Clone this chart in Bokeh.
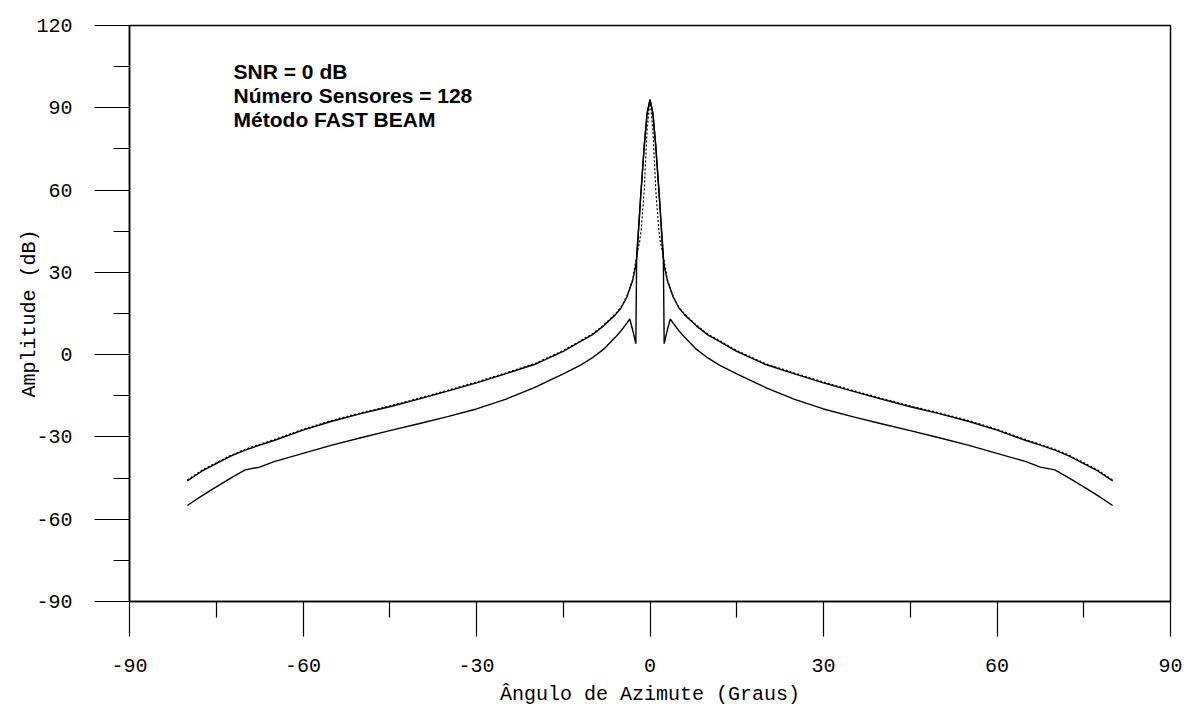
from bokeh.plotting import figure
from bokeh.models import FixedTicker, Range1d, Label, CustomJSTickFormatter
from bokeh.embed import file_html
from bokeh.resources import INLINE

# ---- data ----
x_ticks = [-90, -60, -30, 0, 30, 60, 90]
x_minor = [-75, -45, -15, 15, 45, 75]
y_ticks = [-90, -60, -30, 0, 30, 60, 90, 120]
y_minor = [-75, -45, -15, 15, 45, 75, 105]

upper_ang = [-80, -77.5, -75, -72.5, -70, -67.5, -65, -60, -55, -50, -45, -40, -35, -30,
             -25, -20, -15, -12, -10, -8, -6, -5, -4, -3, -2.5, -2.2,
             -2.0, -1.6, -1.0, -0.5, 0, 0.5, 1.0, 1.6, 2.0,
             2.2, 2.5, 3, 4, 5, 6, 8, 10, 12, 15, 20, 25, 30, 35, 40, 45, 50, 55, 60,
             65, 67.5, 70, 72.5, 75, 77.5, 80]
upper_db = [-46, -42.5, -39.7, -37, -34.8, -33, -31.3, -27.5, -24.3, -21.5, -19, -16.2, -13.3, -10.3,
            -7, -3.6, 1.2, 4.8, 7.2, 10.5, 14.5, 17, 21, 27, 32, 37,
            45, 58, 76, 88, 93, 88, 76, 58, 45,
            37, 32, 27, 21, 17, 14.5, 10.5, 7.2, 4.8, 1.2, -3.6, -7, -10.3, -13.3, -16.2, -19, -21.5, -24.3, -27.5,
            -31.3, -33, -34.8, -37, -39.7, -42.5, -46]

lower_ang = [-80, -77.5, -75, -72.5, -70, -67.5, -65, -60, -55, -50, -45, -40, -35, -30,
             -25, -20, -15, -12, -10, -8, -6, -5, -4, -3.5, -3, -2.45, -2.3,
             -2.0, -1.6, -1.0, -0.5, 0, 0.5, 1.0, 1.6, 2.0,
             2.3, 2.45, 3, 3.5, 4, 5, 6, 8, 10, 12, 15, 20, 25, 30, 35, 40, 45, 50, 55, 60,
             65, 67.5, 70, 72.5, 75, 77.5, 80]
lower_db = [-55, -51.5, -48.2, -45, -42, -41, -39, -36, -33, -30.3, -27.7, -25.2, -22.6, -19.8,
            -16.3, -12, -7, -3.8, -1.2, 2, 6.3, 8.7, 11.5, 13, 9, 4, 37,
            45, 58, 76, 88, 93, 88, 76, 58, 45,
            37, 4, 9, 13, 11.5, 8.7, 6.3, 2, -1.2, -3.8, -7, -12, -16.3, -19.8, -22.6, -25.2, -27.7, -30.3, -33, -36,
            -39, -41, -42, -45, -48.2, -51.5, -55]

dotted_ang = [-80, -77.5, -75, -72.5, -70, -67.5, -65, -60, -55, -50, -45, -40, -35, -30,
              -25, -20, -15, -12, -10, -8, -6, -5, -4, -3, -2.2,
              -1.8, -1.5, -1.0, -0.5, 0, 0.5, 1.0, 1.5, 1.8,
              2.2, 3, 4, 5, 6, 8, 10, 12, 15, 20, 25, 30, 35, 40, 45, 50, 55, 60,
              65, 67.5, 70, 72.5, 75, 77.5, 80]
dotted_db = [-45.7, -42.2, -39.4, -36.7, -34.5, -32.7, -31, -27.2, -24, -21.2, -18.7, -15.9, -13, -10,
             -6.7, -3.3, 1.5, 5.1, 7.5, 10.8, 14.8, 17.3, 21.3, 27.3, 37.2,
             41, 46, 60, 82, 93, 82, 60, 46, 41,
             37.2, 27.3, 21.3, 17.3, 14.8, 10.8, 7.5, 5.1, 1.5, -3.3, -6.7, -10, -13, -15.9, -18.7, -21.2, -24, -27.2,
             -31, -32.7, -34.5, -36.7, -39.4, -42.2, -45.7]

info_lines = ["SNR = 0 dB", "Número Sensores = 128", "Método FAST BEAM"]
info_x = -72.0
info_y = [103.2, 94.4, 85.7]

# ---- figure ----
p = figure(width=1187, height=708, output_backend="svg", toolbar_location=None,
           x_range=Range1d(-90, 90), y_range=Range1d(-90, 120),
           min_border_left=129, min_border_right=17, min_border_top=25, min_border_bottom=107)
p.xgrid.visible = False
p.ygrid.visible = False
p.outline_line_color = "black"
p.outline_line_width = 1.5
p.background_fill_color = "white"
p.border_fill_color = "white"

mono = "Liberation Mono"
fmt = CustomJSTickFormatter(code="return tick.toFixed(0);")
for ax in (p.xaxis[0], p.yaxis[0]):
    ax.formatter = fmt
    ax.axis_line_width = 1.5
    ax.axis_line_color = "black"
    ax.major_tick_out = 35
    ax.major_tick_in = 0
    ax.minor_tick_out = 16
    ax.minor_tick_in = 0
    ax.major_tick_line_width = 1.2
    ax.minor_tick_line_width = 1.2
    ax.major_tick_line_color = "black"
    ax.minor_tick_line_color = "black"
    ax.major_label_text_font = mono
    ax.major_label_text_font_size = "20px"
    ax.major_label_text_color = "black"
    ax.axis_label_text_font = mono
    ax.axis_label_text_font_size = "20px"
    ax.axis_label_text_font_style = "normal"
    ax.axis_label_text_color = "black"

p.xaxis[0].major_label_standoff = 22
p.yaxis[0].major_label_standoff = 22
p.xaxis[0].ticker = FixedTicker(ticks=x_ticks, minor_ticks=x_minor)
p.yaxis[0].ticker = FixedTicker(ticks=y_ticks, minor_ticks=y_minor)
p.xaxis[0].axis_label = "Ângulo de Azimute (Graus)"
p.yaxis[0].axis_label = "Amplitude (dB)"
p.xaxis[0].axis_label_standoff = 8
p.yaxis[0].axis_label_standoff = -8

p.line(upper_ang, upper_db, line_color="black", line_width=1.4)
p.line(lower_ang, lower_db, line_color="black", line_width=1.4)
p.line(dotted_ang, dotted_db, line_color="black", line_width=1.2, line_dash="2 2")

for txt, yy in zip(info_lines, info_y):
    p.add_layout(Label(x=info_x, y=yy, text=txt, text_font="Liberation Sans",
                       text_font_style="bold", text_font_size="21px",
                       text_baseline="middle", text_align="left", text_color="black"))

open("out.html", "w").write(file_html(p, INLINE))
